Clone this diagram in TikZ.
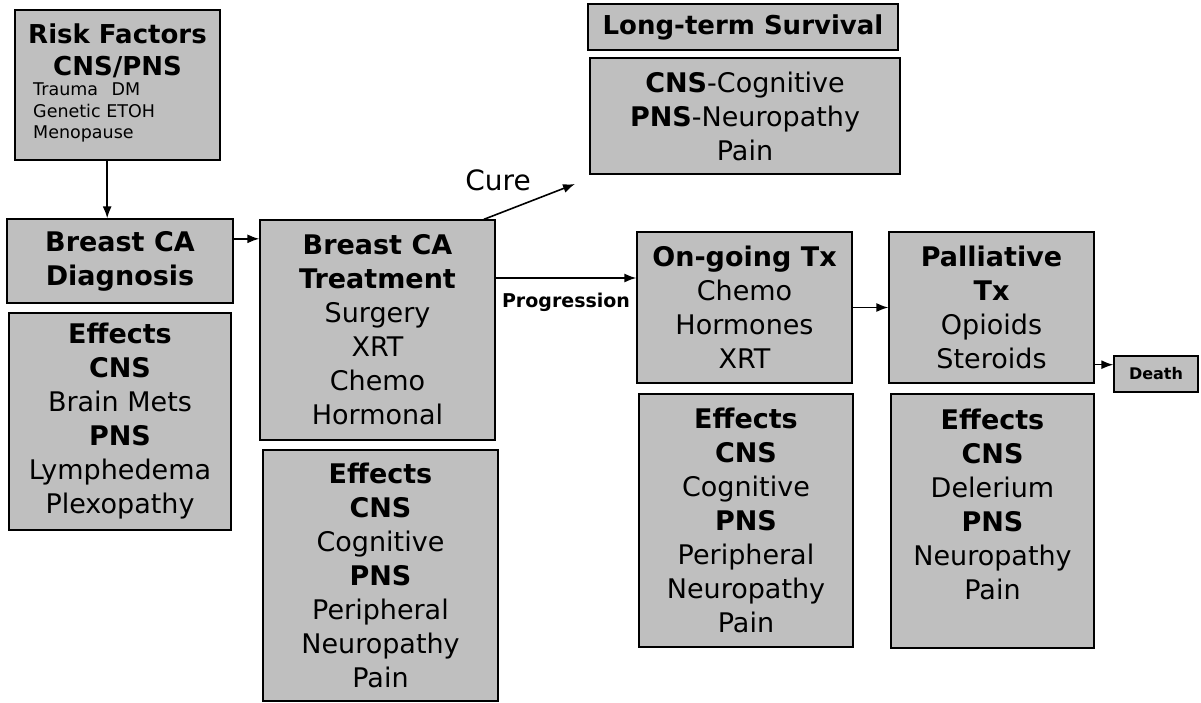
\documentclass[tikz,border=0pt]{standalone}
\usepackage{fontspec}
\setmainfont{DejaVu Sans}
\usetikzlibrary{arrows.meta,calc}
\begin{document}
\begin{tikzpicture}[x=1pt,y=-1pt,
  box/.style={draw=black, line width=1.3pt, fill=black!25, rectangle, inner sep=0pt,
    align=center, font=\fontsize{27}{34}\selectfont},
  arr/.style={-{Latex[length=12pt,width=9pt]}, line width=1.6pt},
  lbl/.style={inner sep=0pt, align=center}
]
\fill[white] (0,0) rectangle (1201,702);
\useasboundingbox (0,0) rectangle (1201,702);

% Risk factors
\node[box, minimum width=205pt, minimum height=150pt] (R) at (117.5,85) {};
\node[lbl, font=\fontsize{26}{32}\selectfont\bfseries] (Rt) at (117.5,51) {Risk Factors\\CNS/PNS};
\node[lbl, align=left, anchor=north west, font=\fontsize{17.5}{21.5}\selectfont] (Rs) at (33,83)
  {Trauma\hspace{8pt} DM\\Genetic ETOH\\Menopause};

% Diagnosis
\node[box, minimum width=226pt, minimum height=84pt] (D) at (120,261)
  {\textbf{Breast CA}\\\textbf{Diagnosis}};
\node[box, minimum width=222pt, minimum height=217pt] (DE) at (120,421.5)
  {\textbf{Effects}\\\textbf{CNS}\\Brain Mets\\\textbf{PNS}\\Lymphedema\\Plexopathy};

% Treatment
\node[box, minimum width=235pt, minimum height=220pt] (T) at (377.5,330)
  {\textbf{Breast CA}\\\textbf{Treatment}\\Surgery\\XRT\\Chemo\\Hormonal};
\node[box, minimum width=235pt, minimum height=251pt] (TE) at (380.5,575.5)
  {\textbf{Effects}\\\textbf{CNS}\\Cognitive\\\textbf{PNS}\\Peripheral\\Neuropathy\\Pain};

% Long-term survival
\node[box, minimum width=310pt, minimum height=46pt, font=\fontsize{26}{32}\selectfont\bfseries] (S1) at (743,27)
  {Long-term Survival};
\node[box, minimum width=310pt, minimum height=116pt] (S2) at (745,116)
  {\textbf{CNS}-Cognitive\\\textbf{PNS}-Neuropathy\\Pain};

% On-going
\node[box, minimum width=215pt, minimum height=151pt] (O) at (744.5,307.5)
  {\textbf{On-going Tx}\\Chemo\\Hormones\\XRT};
\node[box, minimum width=214pt, minimum height=253pt] (OE) at (746,520.5)
  {\textbf{Effects}\\\textbf{CNS}\\Cognitive\\\textbf{PNS}\\Peripheral\\Neuropathy\\Pain};

% Palliative
\node[box, minimum width=205pt, minimum height=151pt] (P) at (991.5,307.5)
  {\textbf{Palliative}\\\textbf{Tx}\\Opioids\\Steroids};
\node[box, minimum width=203pt, minimum height=254pt] (PE) at (992.5,521)
  {\textbf{Effects}\\\textbf{CNS}\\Delerium\\\textbf{PNS}\\Neuropathy\\Pain\\\mbox{}};

% Death
\node[box, minimum width=84pt, minimum height=36pt, font=\fontsize{16}{18}\selectfont\bfseries] (Death) at (1156,374)
  {Death};

% Labels
\node[lbl, anchor=base, font=\fontsize{28}{30}\selectfont] (cure) at (498,190) {Cure};
\node[lbl, anchor=base, font=\fontsize{19}{22}\selectfont\bfseries] (prog) at (566,307) {Progression};

% Connectors
\draw[arr] ($(R.south west)!0.45!(R.south east)$) coordinate (a1) -- (a1 |- D.north);
\draw[arr] ($(D.north east)!0.24!(D.south east)$) coordinate (a2) -- (a2 -| T.west);
\draw[arr] ($(T.north east)!0.265!(T.south east)$) coordinate (a3) -- (a3 -| O.west);
\draw[arr] (O.east) -- (P.west);
\path ($(Death.north west)!0.25!(Death.south west)$) coordinate (a5);
\draw[arr] (a5 -| P.east) -- (a5);
\coordinate (cureend) at (575,184);
\draw[arr] ($(T.north west)!0.95!(T.north east)$) -- (cureend);
\end{tikzpicture}
\end{document}
